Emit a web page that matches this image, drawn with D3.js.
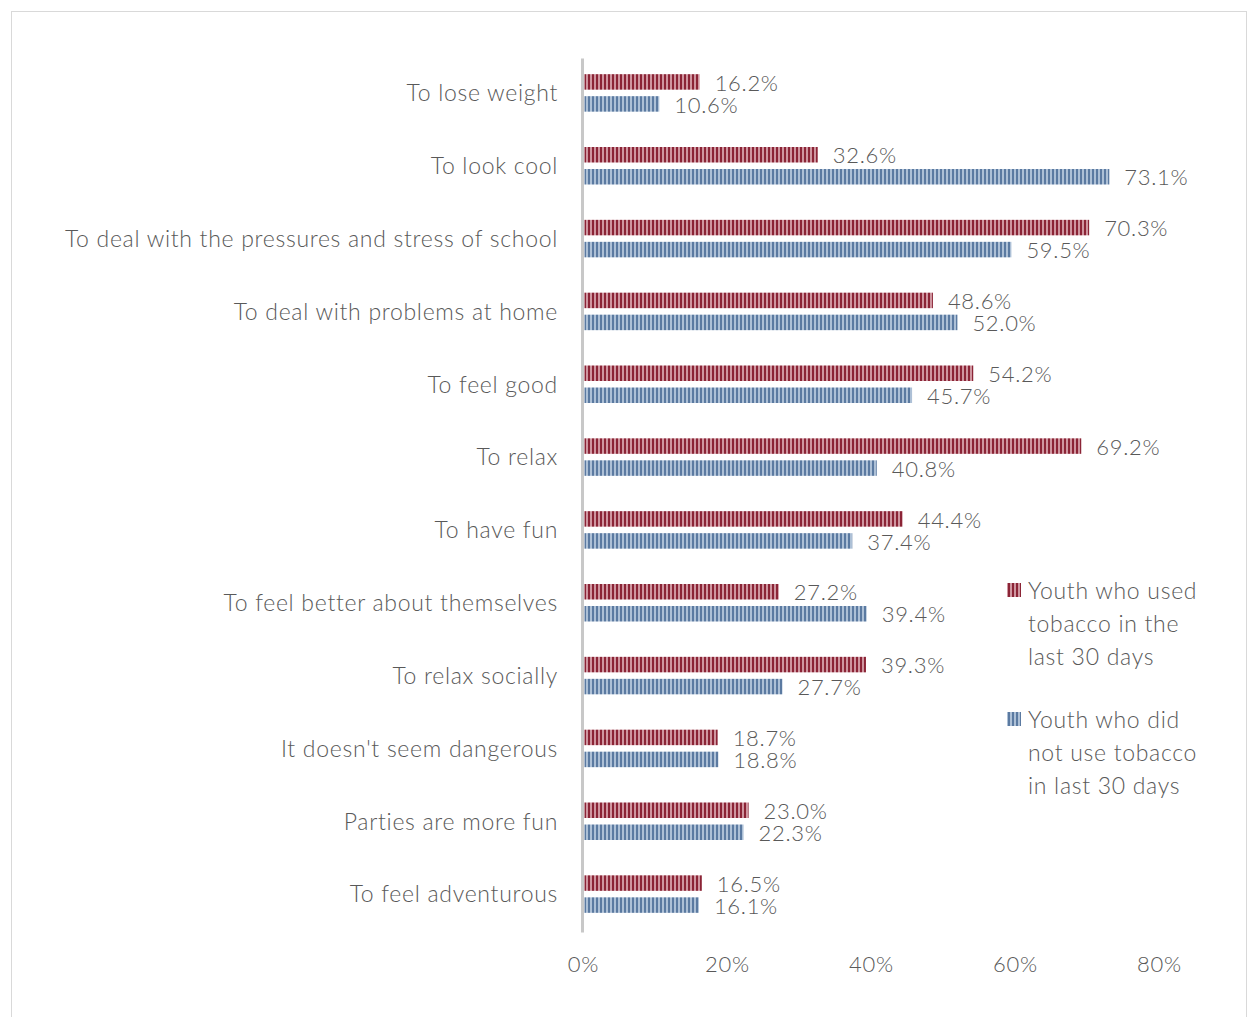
<!DOCTYPE html>
<html>
<head>
<meta charset="utf-8">
<script src="https://cdn.jsdelivr.net/npm/d3@7/dist/d3.min.js"></script>
<style>
  html, body { margin: 0; padding: 0; background: #fff; }
  svg text { font-family: Lato, "Open Sans", sans-serif; font-weight: 300; fill: #595959; letter-spacing: 0.7px; }
</style>
</head>
<body>
<script>
// Reasons given for youth tobacco use, by recent use status
const categories = [
  "To lose weight",
  "To look cool",
  "To deal with the pressures and stress of school",
  "To deal with problems at home",
  "To feel good",
  "To relax",
  "To have fun",
  "To feel better about themselves",
  "To relax socially",
  "It doesn't seem dangerous",
  "Parties are more fun",
  "To feel adventurous"
];
const usedTobacco = [16.2, 32.6, 70.3, 48.6, 54.2, 69.2, 44.4, 27.2, 39.3, 18.7, 23.0, 16.5];
const didNotUse   = [10.6, 73.1, 59.5, 52.0, 45.7, 40.8, 37.4, 39.4, 27.7, 18.8, 22.3, 16.1];
const seriesNames = [
  ["Youth who used", "tobacco in the", "last 30 days"],
  ["Youth who did", "not use tobacco", "in last 30 days"]
];
const xTicks = [0, 20, 40, 60, 80];

const W = 1248, H = 1017;
const FS = "23px";
const svg = d3.select("body").append("svg").attr("width", W).attr("height", H);

// striped fills
const defs = svg.append("defs");
const palettes = [
  { id: "stripeRed",  dark: "#8b2436", light: "#cf96a0" },
  { id: "stripeBlue", dark: "#5b7aa1", light: "#adc0d6" }
];
palettes.forEach(p => {
  const pat = defs.append("pattern")
    .attr("id", p.id).attr("patternUnits", "userSpaceOnUse")
    .attr("width", 4).attr("height", 4);
  pat.append("rect").attr("width", 4).attr("height", 4).attr("fill", p.light);
  pat.append("rect").attr("width", 2).attr("height", 4).attr("fill", p.dark);
});

// chart frame
svg.append("rect")
  .attr("x", 11.5).attr("y", 11.5).attr("width", 1235).attr("height", 1020)
  .attr("fill", "none").attr("stroke", "#d9d9d9").attr("stroke-width", 1);

const x = d3.scaleLinear().domain([0, 80]).range([583, 1159]);
const y = d3.scaleBand().domain(categories).range([58, 932]);

const barH = 15.5, gap = 6.5;
const series = [
  { values: usedTobacco, fill: "url(#stripeRed)", off: -gap / 2 - barH - 1.5 },
  { values: didNotUse,   fill: "url(#stripeBlue)", off: gap / 2 - 1.5 }
];

series.forEach(s => {
  const g = svg.append("g");
  g.selectAll("rect").data(categories).join("rect")
    .attr("x", x(0) + 1.5)
    .attr("y", d => y(d) + y.bandwidth() / 2 + s.off)
    .attr("width", (d, i) => x(s.values[i]) - x(0) - 1.5)
    .attr("height", barH)
    .attr("fill", s.fill);
  g.selectAll("text").data(categories).join("text")
    .attr("x", (d, i) => x(s.values[i]) + 15)
    .attr("y", d => y(d) + y.bandwidth() / 2 + s.off + barH / 2 + 1)
    .attr("dy", "0.35em")
    .style("font-size", "22px")
    .text((d, i) => s.values[i].toFixed(1) + "%");
});

// category axis
const yAxis = svg.append("g").attr("transform", `translate(${x(0) - 1},0)`)
  .call(d3.axisLeft(y).tickSize(0).tickPadding(24));
yAxis.select(".domain").attr("stroke", "#c8c8c8").attr("stroke-width", 3);
yAxis.selectAll("text").style("font-size", FS).attr("dy", "0.3em").attr("fill", "#595959");

// value axis (labels only)
const xAxis = svg.append("g").attr("transform", "translate(0,964)")
  .call(d3.axisBottom(x).tickValues(xTicks).tickFormat(d => d + "%").tickSize(0).tickPadding(0));
xAxis.select(".domain").remove();
xAxis.selectAll("text").style("font-size", "22px").attr("dy", "0.35em").attr("fill", "#595959");

// legend
const legend = svg.append("g");
const legendY = [591, 720];
seriesNames.forEach((lines, i) => {
  legend.append("rect")
    .attr("x", 1007).attr("y", legendY[i] - 8).attr("width", 14).attr("height", 14)
    .attr("fill", i === 0 ? "url(#stripeRed)" : "url(#stripeBlue)");
  const t = legend.append("text").attr("x", 1028).attr("y", legendY[i])
    .style("font-size", FS);
  lines.forEach((ln, k) => {
    t.append("tspan").attr("x", 1028).attr("dy", k === 0 ? "0.35em" : "1.43em").text(ln);
  });
});
</script>
</body>
</html>
